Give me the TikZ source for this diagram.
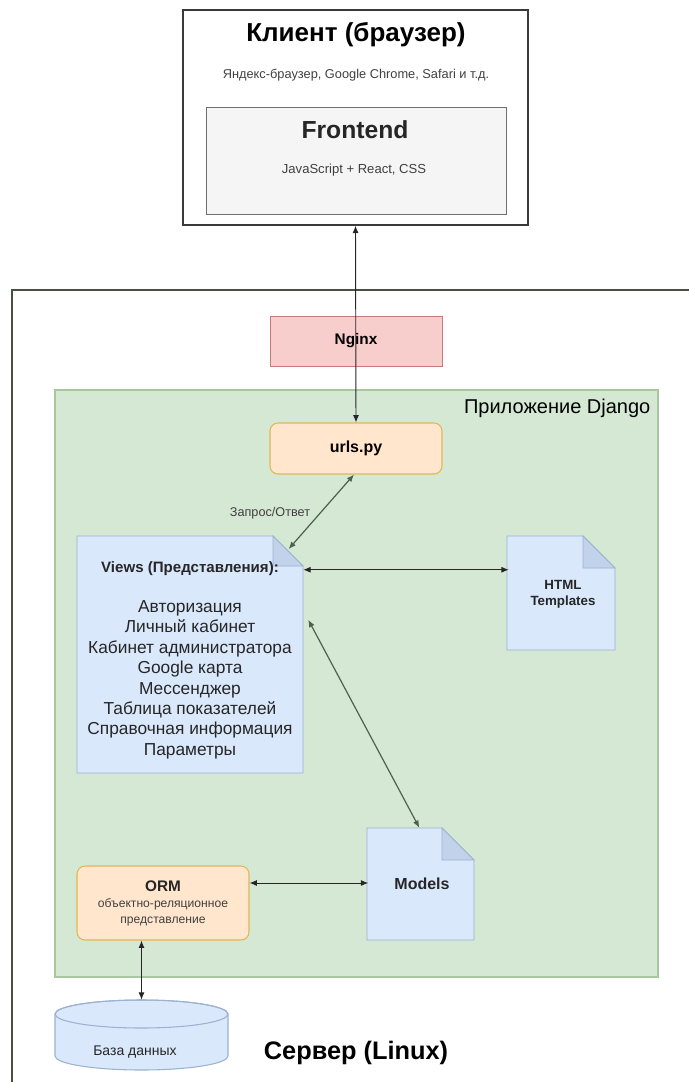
\documentclass[tikz,border=0pt]{standalone}
\usepackage{fontspec}
\setmainfont{Liberation Sans}
\usetikzlibrary{arrows.meta}

\definecolor{clientdraw}{HTML}{3A3A3A}
\definecolor{frontfill}{HTML}{F5F5F5}
\definecolor{frontdraw}{HTML}{707070}
\definecolor{serverdraw}{HTML}{4A4F46}
\definecolor{nginxfill}{HTML}{F8CECC}
\definecolor{nginxdraw}{HTML}{C77A77}
\definecolor{djangofill}{HTML}{D5E8D4}
\definecolor{djangodraw}{HTML}{A7C79C}
\definecolor{urlfill}{HTML}{FFE6CC}
\definecolor{urldraw}{HTML}{E2B657}
\definecolor{notefill}{HTML}{DAE8FC}
\definecolor{notedraw}{HTML}{9CB2D0}
\definecolor{foldfill}{HTML}{C2D2EA}
\definecolor{greenlink}{HTML}{4B624B}
\definecolor{graytext}{HTML}{404040}
\definecolor{darktext}{HTML}{262626}

\tikzset{
  box/.style={draw, inner sep=0pt, align=center},
  redbox/.style={box, fill=nginxfill, draw=nginxdraw, line width=0.6pt},
  orangebox/.style={box, fill=urlfill, draw=urldraw, rounded corners=6pt, line width=0.8pt},
  doc/.style={inner sep=0pt, align=center},
  link/.style={{Latex[length=5.5pt,width=4.5pt]}-{Latex[length=5.5pt,width=4.5pt]}, line width=0.7pt, draw=black!85},
  greenlink/.style={link, draw=greenlink, line width=0.9pt},
  small/.style={font=\fontsize{9.5}{11}\selectfont, text=graytext},
  boldtext/.style={font=\bfseries\fontsize{10}{12}\selectfont, text=darktext}
}

% dog-eared sheet: x1, y1, x2, y2, fold
\newcommand{\dogear}[5]{%
  \filldraw[fill=notefill, draw=notedraw, line width=0.7pt] (#1,#2) -- ({#3-#5},#2) -- (#3,{#2-#5}) -- (#3,#4) -- (#1,#4) -- cycle;
  \filldraw[fill=foldfill, draw=notedraw, line width=0.7pt] ({#3-#5},#2) -- ({#3-#5},{#2-#5}) -- (#3,{#2-#5}) -- cycle;}

\begin{document}
\begin{tikzpicture}[x=0.75pt,y=0.75pt]
\useasboundingbox (0,0) rectangle (689,-1082);
\clip (0,0) rectangle (689,-1082);

%-------------------------------------
% client
\node[box, draw=clientdraw, line width=1.1pt, minimum width=258.75pt, minimum height=161.25pt] (client) at (355.5,-117.5) {};
\node[font=\bfseries\fontsize{19.5}{23}\selectfont] (clienttitle) at (356,-35) {Клиент (браузер)};
\node[small, font=\fontsize{9.6}{11}\selectfont] (clientsub) at (356,-75) {Яндекс-браузер, Google Chrome, Safari и т.д.};
\node[box, fill=frontfill, draw=frontdraw, line width=0.7pt, minimum width=225pt, minimum height=80.25pt] (frontend) at (356,-160.5) {};
\node[font=\bfseries\fontsize{18.5}{22}\selectfont, text=darktext] (fronttitle) at (355,-130) {Frontend};
\node[small, font=\fontsize{9.8}{11}\selectfont] (frontsub) at (354,-170) {JavaScript + React, CSS};

%-------------------------------------
% server
\draw[draw=serverdraw, line width=1.2pt] (12,-290) rectangle (720,-1100);
\node[font=\bfseries\fontsize{19}{22}\selectfont] (server) at (356,-1053) {Сервер (Linux)};

\node[redbox, minimum width=129pt, minimum height=37.5pt, font=\bfseries\fontsize{11.5}{13}\selectfont] (nginx) at (356,-341) {Nginx};

% django
\filldraw[fill=djangofill, draw=djangodraw, line width=0.8pt] (55,-390) rectangle (658,-977);
\node[anchor=east, font=\fontsize{15}{18}\selectfont] (djangolabel) at (655,-408) {Приложение Django};

\node[orangebox, minimum width=129pt, minimum height=38.25pt, font=\bfseries\fontsize{12}{14}\selectfont] (urls) at (356,-448.5) {urls.py};

\dogear{77}{-536}{303}{-773}{30}
\node[doc, minimum width=169.5pt, minimum height=177.75pt, font=\fontsize{13}{15.3}\selectfont, text=darktext] (views) at (190,-654.5)
  {\rule{0pt}{17pt}{\bfseries\fontsize{11.3}{13}\selectfont Views (Представления):}\\[14.5pt]
   Авторизация\\ Личный кабинет\\ Кабинет администратора\\ Google карта\\
   Мессенджер\\ Таблица показателей\\ Справочная информация\\ Параметры};

\dogear{507}{-536}{615}{-650}{32}
\node[doc, boldtext, minimum width=81pt, minimum height=85.5pt] (html) at (563,-594) {HTML\\Templates};

\dogear{367}{-828}{474}{-940}{32}
\node[doc, boldtext, font=\bfseries\fontsize{12}{14}\selectfont, minimum width=80.25pt, minimum height=84pt] (models) at (422,-884) {Models};

\node[orangebox, minimum width=129pt, minimum height=55.5pt] (orm) at (163,-903)
  {{\bfseries\fontsize{11.5}{13}\selectfont\color{darktext} ORM}\\[0pt]
   {\fontsize{9.1}{12}\selectfont\color{graytext} объектно-реляционное}\\
   {\fontsize{9.1}{12}\selectfont\color{graytext} представление}};

% database
\filldraw[fill=notefill, draw=notedraw, line width=0.8pt] (55,-1014) -- (55,-1056) arc[start angle=180, end angle=360, x radius=86.5, y radius=14] -- (228,-1014) arc[start angle=0, end angle=180, x radius=86.5, y radius=14] -- cycle;
\draw[draw=notedraw, line width=0.8pt] (141.5,-1014) ellipse[x radius=86.5, y radius=14];
\node[inner sep=0pt, minimum width=129.75pt, minimum height=52.5pt] (db) at (141.5,-1035) {};
\node[font=\fontsize{10.5}{12}\selectfont, text=darktext] (dblabel) at (135,-1052) {База данных};

%-------------------------------------
% connectors
\draw[link] (client.south) -- (urls.north);
\coordinate (vf) at ([xshift=-11pt,yshift=-10pt]views.north east);
\draw[greenlink] ([xshift=-1.5pt]urls.south) -- (vf);
\node[small] (reqlabel) at (270,-513) {Запрос/Ответ};
\coordinate (vh) at ([yshift=-25.5pt]views.north east);
\draw[link] (vh) -- (vh -| html.west);
\draw[greenlink] ([xshift=3.75pt,yshift=-63pt]views.north east) -- ([xshift=-2pt]models.north);
\coordinate (om) at ([yshift=15pt]orm.east);
\draw[link] (om) -- (om -| models.west);
\draw[link] (db.north |- orm.south) -- (db.north);
\end{tikzpicture}
\end{document}
